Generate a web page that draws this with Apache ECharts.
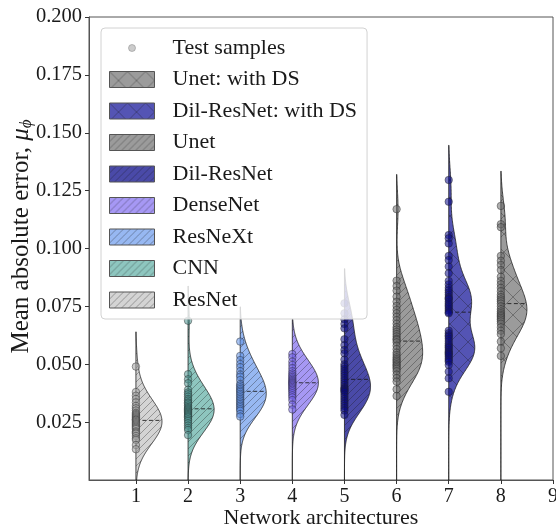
<!DOCTYPE html>
<html><head><meta charset="utf-8">
<script src="https://cdn.jsdelivr.net/npm/echarts@6/dist/echarts.min.js"></script>
<style>html,body{margin:0;padding:0;background:#fff}#chart{width:556px;height:531px}</style>
</head><body><div id="chart"></div>
<script>
// ---------------- data ----------------
const categories = ['ResNet', 'CNN', 'ResNeXt', 'DenseNet', 'Dil-ResNet', 'Unet', 'Dil-ResNet: with DS', 'Unet: with DS'];
const xPositions = [1, 2, 3, 4, 5, 6, 7, 8];
const xTickValues = [1, 2, 3, 4, 5, 6, 7, 8, 9];
const yTickValues = [0.025, 0.05, 0.075, 0.1, 0.125, 0.15, 0.175, 0.2];
const legendOrder = ['Test samples', 'Unet: with DS', 'Dil-ResNet: with DS', 'Unet', 'Dil-ResNet', 'DenseNet', 'ResNeXt', 'CNN', 'ResNet'];

const resnetSamples = [0.049, 0.038, 0.0364, 0.035, 0.0335, 0.032, 0.031, 0.030, 0.029, 0.0285, 0.028, 0.0275, 0.027, 0.0265, 0.026, 0.026, 0.0255, 0.025, 0.0245, 0.024, 0.0235, 0.023, 0.0225, 0.022, 0.021, 0.0205, 0.020, 0.019, 0.018, 0.0173, 0.0151, 0.0133];
const cnnSamples = [0.0688, 0.0457, 0.0435, 0.0418, 0.039, 0.0378, 0.037, 0.036, 0.035, 0.0343, 0.0335, 0.033, 0.0322, 0.0315, 0.031, 0.0305, 0.030, 0.0295, 0.029, 0.0285, 0.028, 0.0275, 0.027, 0.0262, 0.0255, 0.0245, 0.0235, 0.0225, 0.0216, 0.0194];
const resnextSamples = [0.0598, 0.0536, 0.0518, 0.0501, 0.0487, 0.047, 0.0455, 0.0446, 0.0432, 0.0415, 0.0408, 0.040, 0.0393, 0.0386, 0.038, 0.0372, 0.0365, 0.0357, 0.035, 0.0343, 0.0335, 0.0328, 0.0321, 0.0314, 0.0306, 0.0299, 0.0285, 0.0274];
const densenetSamples = [0.0544, 0.053, 0.0511, 0.0497, 0.0483, 0.047, 0.046, 0.0452, 0.0445, 0.0438, 0.0432, 0.0427, 0.0422, 0.0418, 0.0413, 0.0408, 0.0402, 0.0396, 0.039, 0.0383, 0.0375, 0.0366, 0.0357, 0.0345, 0.0325, 0.0305];
const dilResnetSamples = [0.0763, 0.072, 0.0694, 0.0674, 0.0655, 0.0608, 0.0583, 0.0562, 0.0547, 0.052, 0.050, 0.049, 0.048, 0.047, 0.046, 0.045, 0.044, 0.043, 0.042, 0.041, 0.040, 0.0395, 0.039, 0.0385, 0.038, 0.037, 0.036, 0.035, 0.034, 0.033, 0.032, 0.031, 0.030, 0.0281];
const unetSamples = [0.117, 0.0861, 0.0838, 0.0818, 0.0792, 0.077, 0.0752, 0.0735, 0.072, 0.0705, 0.069, 0.0675, 0.066, 0.065, 0.064, 0.063, 0.062, 0.061, 0.0605, 0.0595, 0.058, 0.0565, 0.055, 0.054, 0.053, 0.0522, 0.0515, 0.0508, 0.050, 0.0494, 0.0487, 0.048, 0.047, 0.0455, 0.044, 0.0425, 0.0392, 0.0363];
const dilResnetDsSamples = [0.1296, 0.1202, 0.1058, 0.1044, 0.1022, 0.0968, 0.095, 0.0922, 0.0893, 0.086, 0.0845, 0.083, 0.082, 0.081, 0.080, 0.079, 0.0785, 0.078, 0.077, 0.0762, 0.0755, 0.0748, 0.074, 0.0732, 0.0725, 0.072, 0.0645, 0.0634, 0.0625, 0.0619, 0.061, 0.060, 0.059, 0.0582, 0.0575, 0.057, 0.0562, 0.0555, 0.055, 0.0545, 0.054, 0.0533, 0.0525, 0.0518, 0.0511, 0.0497, 0.0468, 0.0439, 0.0381];
const unetDsSamples = [0.1184, 0.1105, 0.1092, 0.0968, 0.0947, 0.0929, 0.0907, 0.0878, 0.086, 0.0845, 0.083, 0.0815, 0.080, 0.079, 0.078, 0.0772, 0.0762, 0.075, 0.0738, 0.0728, 0.072, 0.0713, 0.0707, 0.070, 0.0693, 0.0685, 0.0675, 0.066, 0.0645, 0.063, 0.0598, 0.0569, 0.0536];

const samplesByArch = [resnetSamples, cnnSamples, resnextSamples, densenetSamples, dilResnetSamples, unetSamples, dilResnetDsSamples, unetDsSamples];

// KDE settings (gaussian kernel, upper cut = 2 bandwidths, width-scaled halves)
const kdeBandwidth = 0.0075;
const kdeCut = 2;
const halfWidth = 0.5;
const yMin = 0, yMax = 0.2, xMin = 0.1, xMax = 9;

// ---------------- styles ----------------
const fillColors = ['#d4d4d4', '#8ec6bf', '#97b8f2', '#a698f4', '#4a4aa8', '#9b9b9b', '#5454b4', '#9b9b9b'];
const pointColors = ['#a0a0a0', '#4f9490', '#5f8fe6', '#7564ea', '#0a0a80', '#6e6e6e', '#0a0a88', '#6e6e6e'];
const hatchKinds = ['/', '/', '/', '/', '/', '/', 'x', 'x'];
const FONT = "'Liberation Serif','Times New Roman',serif";

function makeHatch(base, kind) {
  const s = kind === 'x' ? 18 : 7;
  const c = document.createElement('canvas');
  c.width = s; c.height = s;
  const g = c.getContext('2d');
  g.fillStyle = base; g.fillRect(0, 0, s, s);
  g.strokeStyle = 'rgba(25,25,25,0.42)';
  g.lineWidth = 0.8;
  g.beginPath();
  for (const o of [-s, 0, s]) { g.moveTo(o, s); g.lineTo(o + s, 0); }
  if (kind === 'x') { for (const o of [-s, 0, s]) { g.moveTo(o, 0); g.lineTo(o + s, s); } }
  g.stroke();
  return { image: c, repeat: 'repeat' };
}
const patterns = fillColors.map((c, i) => makeHatch(c, hatchKinds[i]));

function density(samples, y) {
  let d = 0;
  for (const s of samples) { const z = (y - s) / kdeBandwidth; d += Math.exp(-0.5 * z * z); }
  return d;
}
function median(arr) {
  const a = arr.slice().sort((p, q) => p - q); const n = a.length;
  return n % 2 ? a[(n - 1) / 2] : (a[n / 2 - 1] + a[n / 2]) / 2;
}
function profile(samples) {
  const lo = yMin;
  const hi = Math.max(...samples) + kdeCut * kdeBandwidth;
  let m = 0;
  for (let i = 0; i <= 400; i++) { const y = lo + (hi - lo) * i / 400; m = Math.max(m, density(samples, y)); }
  const ys = [], ws = [];
  const n = 240;
  for (let i = 0; i <= n; i++) { const y = lo + (hi - lo) * i / n; ys.push(y); ws.push(density(samples, y) / m * halfWidth); }
  const med = median(samples);
  return { lo, hi, ys, ws, med, wMed: density(samples, med) / m * halfWidth };
}

const series = [];
categories.forEach((name, k) => {
  const prof = profile(samplesByArch[k]);
  series.push({
    type: 'custom', name, z: 2, clip: true,
    itemStyle: { color: patterns[k] },
    data: [[xPositions[k], prof.med]],
    renderItem: (params, api) => {
      const x0 = api.value(0);
      const pts = [api.coord([x0, prof.lo])];
      prof.ys.forEach((y, i) => pts.push(api.coord([x0 + prof.ws[i], y])));
      pts.push(api.coord([x0, prof.hi]));
      const a = api.coord([x0, prof.med]), b = api.coord([x0 + prof.wMed, prof.med]);
      return {
        type: 'group', children: [
          { type: 'polygon', shape: { points: pts }, style: { fill: patterns[k], stroke: 'rgba(25,25,25,0.85)', lineWidth: 0.9 } },
          { type: 'line', shape: { x1: a[0], y1: a[1], x2: b[0], y2: b[1] }, style: { stroke: 'rgba(25,25,25,0.85)', lineWidth: 1, lineDash: [4, 2.5] } }
        ]
      };
    }
  });
});
categories.forEach((name, k) => {
  series.push({
    type: 'scatter', name: 'Test samples', z: 3,
    symbol: 'circle', symbolSize: 7.5,
    itemStyle: { color: pointColors[k], opacity: 0.55, borderColor: '#222', borderWidth: 0.8 },
    data: samplesByArch[k].map(v => [xPositions[k], v])
  });
});

const legendData = legendOrder.map(n => {
  if (n === 'Test samples') {
    return { name: n, icon: 'path://M0,0M45,16M19,8a3.5,3.5 0 1,0 7,0a3.5,3.5 0 1,0 -7,0', itemStyle: { color: '#a3a3a3', borderColor: '#777', borderWidth: 0.8 } };
  }
  const k = categories.indexOf(n);
  return { name: n, icon: 'rect', itemStyle: { color: patterns[k], borderColor: '#555', borderWidth: 1 } };
});

const chart = echarts.init(document.getElementById('chart'), null, { renderer: 'canvas' });
chart.setOption({
  animation: false,
  backgroundColor: '#fff',
  grid: { left: 89, right: 3, top: 17, bottom: 51, outerBoundsMode: 'none', containLabel: false, show: true, borderColor: '#555', borderWidth: 1, backgroundColor: 'transparent' },
  legend: {
    data: legendData, orient: 'vertical', left: 101, top: 28,
    itemWidth: 45, itemHeight: 16, itemGap: 9.5,
    padding: [9, 10, 8, 8],
    backgroundColor: 'rgba(255,255,255,0.8)', borderColor: '#d2d2d2', borderWidth: 1, borderRadius: 4,
    selectedMode: false,
    textStyle: { fontFamily: FONT, fontSize: 22, color: '#1a1a1a', padding: [0, 0, 0, 13] }
  },
  xAxis: {
    type: 'value', min: xMin, max: xMax,
    name: 'Network architectures', nameLocation: 'middle', nameGap: 27, nameMoveOverlap: false,
    nameTextStyle: { fontFamily: FONT, fontSize: 22, color: '#1a1a1a' },
    axisLine: { show: true, lineStyle: { color: '#555', width: 1 } },
    axisTick: { show: true, customValues: xTickValues, length: 4, lineStyle: { color: '#333' } },
    axisLabel: { customValues: xTickValues, fontFamily: FONT, fontSize: 20, color: '#1a1a1a', margin: 7, formatter: v => String(v) },
    splitLine: { show: false }
  },
  yAxis: {
    type: 'value', min: yMin, max: yMax,
    name: 'Mean absolute error, {m|μ}{s|ϕ}', nameLocation: 'middle', nameGap: 54, nameMoveOverlap: false,
    nameTextStyle: {
      fontFamily: FONT, fontSize: 25, color: '#1a1a1a', padding: [0, 0, 0, 24],
      rich: {
        m: { fontFamily: FONT, fontSize: 25, fontStyle: 'italic', color: '#1a1a1a' },
        s: { fontFamily: FONT, fontSize: 17, fontStyle: 'italic', color: '#1a1a1a', padding: [10, 0, 0, 0] }
      }
    },
    axisLine: { show: true, lineStyle: { color: '#555', width: 1 } },
    axisTick: { show: true, customValues: yTickValues, length: 4, lineStyle: { color: '#333' } },
    axisLabel: { customValues: yTickValues, fontFamily: FONT, fontSize: 20.5, color: '#1a1a1a', margin: 7, formatter: v => v.toFixed(3) },
    splitLine: { show: false }
  },
  series
});
</script>
</body></html>
